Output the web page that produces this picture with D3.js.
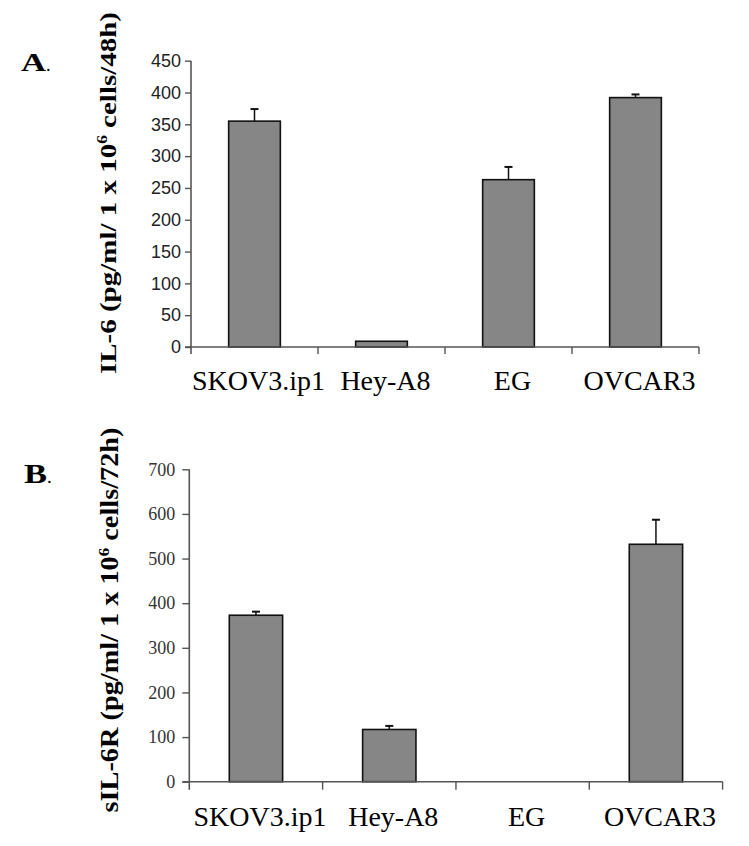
<!DOCTYPE html>
<html>
<head>
<meta charset="utf-8">
<script src="https://cdn.jsdelivr.net/npm/d3@7/dist/d3.min.js"></script>
<style>
  html, body { margin: 0; padding: 0; background: #fff; }
  svg { display: block; }
</style>
</head>
<body>
<svg id="chart" width="749" height="846"></svg>
<script>
// ---- data ----
const categories = ["SKOV3.ip1", "Hey-A8", "EG", "OVCAR3"];
const il6Values = [355, 9, 263, 392];
const il6ErrorsUp = [19, 0, 20, 5];
const il6Ticks = [0, 50, 100, 150, 200, 250, 300, 350, 400, 450];
const sil6rValues = [373, 117, 0, 532];
const sil6rErrorsUp = [8, 8, 0, 55];
const sil6rTicks = [0, 100, 200, 300, 400, 500, 600, 700];

const svg = d3.select("#chart");
const serif = "'Liberation Serif', 'Times New Roman', Times, serif";
const sans = "'Liberation Sans', Arial, Helvetica, sans-serif";

function drawPanel(cfg) {
  const g = svg.append("g");
  const x = d3.scaleBand().domain(categories)
    .range([cfg.x0, cfg.x1]).paddingInner(cfg.pad).paddingOuter(cfg.pad / 2);
  const y = d3.scaleLinear().domain([0, cfg.max]).range([cfg.yBottom, cfg.yTop]);
  const step = x.step();

  // bars
  const rows = categories.map((c, i) => ({ c, v: cfg.values[i], e: cfg.errors[i] }));
  g.selectAll("rect.bar").data(rows.filter(d => d.v > 0)).join("rect")
    .attr("class", "bar")
    .attr("x", d => x(d.c))
    .attr("y", d => y(d.v))
    .attr("width", x.bandwidth())
    .attr("height", d => y(0) - y(d.v))
    .attr("fill", "#868686")
    .attr("stroke", "#111")
    .attr("stroke-width", 1.6);

  // error bars
  const eb = rows.filter(d => d.v > 0 && d.e > 0);
  g.selectAll("line.err").data(eb).join("line")
    .attr("x1", d => x(d.c) + x.bandwidth() / 2)
    .attr("x2", d => x(d.c) + x.bandwidth() / 2)
    .attr("y1", d => y(d.v))
    .attr("y2", d => y(d.v + d.e))
    .attr("stroke", "#111").attr("stroke-width", 1.5);
  g.selectAll("line.cap").data(eb).join("line")
    .attr("x1", d => x(d.c) + x.bandwidth() / 2 - 4)
    .attr("x2", d => x(d.c) + x.bandwidth() / 2 + 4)
    .attr("y1", d => y(d.v + d.e))
    .attr("y2", d => y(d.v + d.e))
    .attr("stroke", "#111").attr("stroke-width", 2);

  // y axis
  const yAxis = d3.axisLeft(y).tickValues(cfg.ticks).tickSize(cfg.yTickLen)
    .tickPadding(cfg.yTickPad).tickSizeOuter(0);
  const ya = g.append("g").attr("transform", `translate(${cfg.x0},0)`).call(yAxis);
  ya.select(".domain").remove();
  ya.selectAll(".tick line").attr("stroke", cfg.axisColor).attr("stroke-width", 1.4);
  ya.selectAll(".tick text")
    .attr("font-family", cfg.tickFont).attr("font-size", cfg.tickSize)
    .attr("fill", cfg.tickColor);
  g.append("line")
    .attr("x1", cfg.x0).attr("x2", cfg.x0)
    .attr("y1", y(cfg.max)).attr("y2", y(0) + cfg.xTickLen)
    .attr("stroke", cfg.axisColor).attr("stroke-width", 1.6);

  // x axis line + boundary ticks
  g.append("line")
    .attr("x1", cfg.x0 - cfg.yTickLen).attr("x2", cfg.x1)
    .attr("y1", y(0)).attr("y2", y(0))
    .attr("stroke", cfg.axisColor).attr("stroke-width", 1.6);
  const bounds = categories.map(c => x(c) + x.bandwidth() + step * cfg.pad / 2);
  g.selectAll("line.xt").data(bounds).join("line")
    .attr("x1", d => d).attr("x2", d => d)
    .attr("y1", y(0)).attr("y2", y(0) + cfg.xTickLen)
    .attr("stroke", cfg.axisColor).attr("stroke-width", 1.4);

  // category labels
  g.selectAll("text.cat").data(categories).join("text")
    .attr("x", c => x(c) + x.bandwidth() / 2 + cfg.labelShift)
    .attr("y", cfg.labelY)
    .attr("text-anchor", "middle")
    .attr("font-family", serif).attr("font-size", 28)
    .attr("fill", "#000")
    .text(c => c);

  // y title (rotated)
  const t = g.append("text")
    .attr("transform", `translate(${cfg.titleX},${cfg.titleY}) rotate(-90)`)
    .attr("text-anchor", "middle")
    .attr("font-family", serif).attr("font-weight", "bold")
    .attr("font-size", cfg.titleSize)
    .attr("textLength", cfg.titleLen).attr("lengthAdjust", "spacingAndGlyphs")
    .attr("fill", "#000");
  t.append("tspan").text(cfg.titlePre);
  t.append("tspan").attr("dy", -cfg.titleSize * 0.38).attr("font-size", cfg.titleSize * 0.6).text("6");
  t.append("tspan").attr("dy", cfg.titleSize * 0.38).text(" cells/" + cfg.titleHours + ")");

  // panel letter
  const pl = g.append("text")
    .attr("x", cfg.letterX).attr("y", cfg.letterY)
    .attr("font-family", serif).attr("fill", "#000");
  pl.append("tspan").attr("font-weight", "bold").attr("font-size", cfg.letterSize)
    .attr("textLength", cfg.letterW).attr("lengthAdjust", "spacingAndGlyphs").text(cfg.letter);
  pl.append("tspan").attr("font-size", cfg.letterSize * 0.7).text(".");
}

drawPanel({
  values: il6Values, errors: il6ErrorsUp, ticks: il6Ticks, max: 450,
  x0: 191, x1: 699, yTop: 60.7, yBottom: 347, pad: 0.593,
  yTickLen: 6, yTickPad: 4, xTickLen: 7,
  axisColor: "#555", tickFont: sans, tickSize: 18, tickColor: "#222",
  labelY: 390, labelShift: 4,
  titleX: 116, titleY: 193, titleSize: 24, titleLen: 362,
  titlePre: "IL-6 (pg/ml/ 1 x 10", titleHours: "48h",
  letter: "A", letterX: 21, letterY: 71, letterSize: 26, letterW: 25
});

drawPanel({
  values: sil6rValues, errors: sil6rErrorsUp, ticks: sil6rTicks, max: 700,
  x0: 189.3, x1: 722.6, yTop: 469.3, yBottom: 781.7, pad: 0.6,
  yTickLen: 7, yTickPad: 7, xTickLen: 8,
  axisColor: "#555", tickFont: serif, tickSize: 18, tickColor: "#333",
  labelY: 826, labelShift: 4,
  titleX: 118, titleY: 620, titleSize: 25, titleLen: 385,
  titlePre: "sIL-6R (pg/ml/ 1 x 10", titleHours: "72h",
  letter: "B", letterX: 24, letterY: 483, letterSize: 27, letterW: 23
});
</script>
</body>
</html>
